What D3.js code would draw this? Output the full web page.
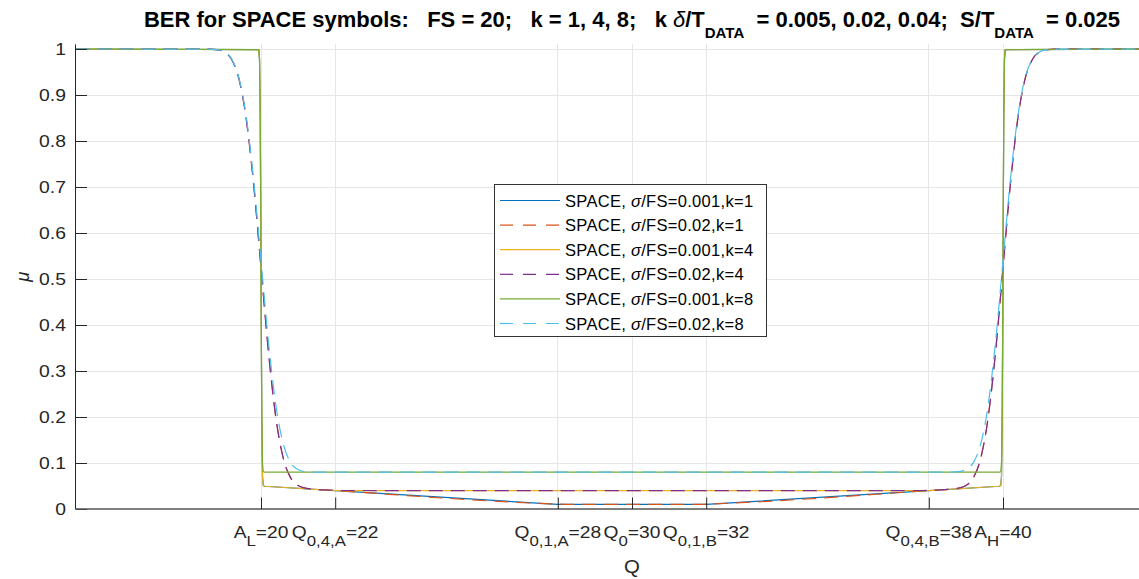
<!DOCTYPE html>
<html><head><meta charset="utf-8">
<script src="https://cdn.jsdelivr.net/npm/d3@7"></script>
<style>
body{margin:0;background:#fff;overflow:hidden}
svg{display:block;font-family:"Liberation Sans",Arial,sans-serif}
</style></head><body>
<svg id="chart" width="1139" height="579"></svg>
<script>
// ---------- DATA ----------
const xTickValues = [20, 22, 28, 30, 32, 38, 40];
const xTickMain = ["A", "Q", "Q", "Q", "Q", "Q", "A"];
const xTickSub = ["L", "0,4,A", "0,1,A", "0", "0,1,B", "0,4,B", "H"];
const xTickTail = ["=20", "=22", "=28", "=30", "=32", "=38", "=40"];
const yTickValues = [0, 0.1, 0.2, 0.3, 0.4, 0.5, 0.6, 0.7, 0.8, 0.9, 1];
const yTickLabels = ["0", "0.1", "0.2", "0.3", "0.4", "0.5", "0.6", "0.7", "0.8", "0.9", "1"];
const seriesSigma = ["0.001", "0.02", "0.001", "0.02", "0.001", "0.02"];
const seriesK = ["1", "1", "4", "4", "8", "8"];

// Q grid for the sharp (σ/FS = 0.001) curves
const qSharp = [15, 19.94, 19.96, 19.98, 20, 20.02, 20.04, 20.06, 20.1, 22, 28, 32, 38, 39.9, 39.94, 39.96, 39.98, 40, 40.02, 40.04, 40.06, 45];
const muSharpK1 = [1, 0.9987, 0.9784, 0.8493, 0.525, 0.2006, 0.0718, 0.0512, 0.0495, 0.04, 0.01, 0.01, 0.04, 0.0495, 0.0512, 0.0718, 0.2006, 0.525, 0.8493, 0.9784, 0.9987, 1];
const muSharpK4 = [1, 0.9987, 0.9784, 0.8493, 0.525, 0.2006, 0.0718, 0.0512, 0.0495, 0.04, 0.04, 0.04, 0.04, 0.0495, 0.0512, 0.0718, 0.2006, 0.525, 0.8493, 0.9784, 0.9987, 1];
const muSharpK8 = [1, 0.9988, 0.9791, 0.854, 0.54, 0.226, 0.1009, 0.0812, 0.08, 0.08, 0.08, 0.08, 0.08, 0.08, 0.0812, 0.1009, 0.226, 0.54, 0.854, 0.9791, 0.9988, 1];

// Q grid for the smooth (σ/FS = 0.02) curves
const qSmooth = [15, 18.6, 18.8, 19.0, 19.2, 19.4, 19.6, 19.8, 20.0, 20.2, 20.4, 20.6, 20.8, 21.0, 21.2, 21.4, 21.8, 22.2, 27.8, 28.2, 31.8, 32.2, 37.8, 38.2, 38.6, 38.8, 39.0, 39.2, 39.4, 39.6, 39.8, 40.0, 40.2, 40.4, 40.6, 40.8, 41.0, 41.2, 41.4, 45];
const muSmoothK1 = [1, 0.9998, 0.9987, 0.9941, 0.9784, 0.9365, 0.8493, 0.7069, 0.525, 0.3424, 0.199, 0.1107, 0.0677, 0.0509, 0.0454, 0.0432, 0.0412, 0.039, 0.0113, 0.0102, 0.0102, 0.0113, 0.039, 0.0412, 0.0432, 0.0454, 0.0509, 0.0677, 0.1107, 0.199, 0.3424, 0.525, 0.7069, 0.8493, 0.9365, 0.9784, 0.9941, 0.9987, 0.9998, 1];
const muSmoothK4 = [1, 0.9998, 0.9987, 0.9941, 0.9784, 0.9365, 0.8493, 0.7069, 0.525, 0.3424, 0.199, 0.1107, 0.0677, 0.0509, 0.0454, 0.0432, 0.0412, 0.0402, 0.04, 0.04, 0.04, 0.04, 0.0402, 0.0412, 0.0432, 0.0454, 0.0509, 0.0677, 0.1107, 0.199, 0.3424, 0.525, 0.7069, 0.8493, 0.9365, 0.9784, 0.9941, 0.9987, 0.9998, 1];
const muSmoothK8 = [1, 0.9998, 0.9988, 0.9943, 0.9791, 0.9385, 0.854, 0.7161, 0.54, 0.3639, 0.226, 0.1415, 0.1009, 0.0857, 0.0812, 0.0802, 0.08, 0.08, 0.08, 0.08, 0.08, 0.08, 0.08, 0.08, 0.0802, 0.0812, 0.0857, 0.1009, 0.1415, 0.226, 0.3639, 0.54, 0.7161, 0.854, 0.9385, 0.9791, 0.9943, 0.9988, 0.9998, 1];

// ---------- STYLE / LAYOUT ----------
const colors = ["#0072BD", "#D95319", "#EDB120", "#7E2F8E", "#77AC30", "#4DBEEE"];
const dashed = [false, true, false, true, false, true];
const textColor = "#262626";

const series = [
  {q: qSharp, mu: muSharpK1},
  {q: qSmooth, mu: muSmoothK1},
  {q: qSharp, mu: muSharpK4},
  {q: qSmooth, mu: muSmoothK4},
  {q: qSharp, mu: muSharpK8},
  {q: qSmooth, mu: muSmoothK8}
];

const svg = d3.select("#chart");
const left = 75.5, bottom = 509, pxPerQ = 37.1, pxPerMu = 460;
const x = d3.scaleLinear().domain([15, 45]).range([left, left + 30 * pxPerQ]);
const y = d3.scaleLinear().domain([0, 1.01]).range([bottom, bottom - 1.01 * pxPerMu]);
const xEnd = 1139, yTop = y(1.01);
const stretch = 1.21;

// grid
const grid = svg.append("g").attr("stroke", "#e6e6e6").attr("stroke-width", 1).attr("shape-rendering", "crispEdges");
grid.selectAll("line.h").data(yTickValues.filter(v => v > 0)).join("line")
  .attr("x1", left).attr("x2", xEnd).attr("y1", d => y(d)).attr("y2", d => y(d));
grid.selectAll("line.v").data(xTickValues).join("line")
  .attr("x1", d => x(d)).attr("x2", d => x(d)).attr("y1", yTop).attr("y2", bottom);

// clip
svg.append("defs").append("clipPath").attr("id", "clip").append("rect")
  .attr("x", left).attr("y", yTop - 3).attr("width", x(45) - left).attr("height", bottom - yTop + 3);

// lines
const plot = svg.append("g").attr("clip-path", "url(#clip)");
series.forEach((s, i) => {
  const pts = s.q.map((q, j) => [q, s.mu[j]]);
  const gen = d3.line().x(d => x(d[0])).y(d => y(d[1]))
    .curve(dashed[i] ? d3.curveMonotoneX : d3.curveLinear);
  plot.append("path").datum(pts).attr("d", gen)
    .attr("fill", "none").attr("stroke", colors[i]).attr("stroke-width", 1.2)
    .attr("stroke-linejoin", "round")
    .attr("stroke-dasharray", dashed[i] ? "14,8" : null);
});

// axes
const yAxis = d3.axisLeft(y).tickValues(yTickValues).tickFormat(() => "").tickSizeInner(-11.5).tickSizeOuter(0);
const gy = svg.append("g").attr("transform", `translate(${left},0)`).call(yAxis);
gy.select(".domain").attr("stroke", textColor).attr("d", `M0,${yTop}V${bottom}`);
gy.selectAll(".tick line").attr("stroke", textColor);

const yl = svg.append("g").attr("fill", textColor).attr("font-size", 16);
yTickValues.forEach((v, i) => {
  yl.append("text").attr("transform", `translate(66,${y(v) + 5.8}) scale(${stretch},1)`)
    .attr("text-anchor", "end").text(yTickLabels[i]);
});

const xAxis = d3.axisBottom(x).tickValues(xTickValues).tickFormat(() => "").tickSizeInner(-11.5).tickSizeOuter(0);
const gx = svg.append("g").attr("transform", `translate(0,${bottom})`).call(xAxis);
gx.select(".domain").attr("stroke", "#555").attr("stroke-width", 1.5).attr("d", `M${left},0H${xEnd}`);
gx.selectAll(".tick line").attr("stroke", textColor);

// x tick labels with subscripts
const xl = svg.append("g").attr("fill", textColor).attr("font-size", 16);
xTickValues.forEach((v, i) => {
  const t = xl.append("text").attr("transform", `translate(${x(v)},537.5) scale(${stretch - 0.01},1)`)
    .attr("text-anchor", "middle");
  t.append("tspan").text(xTickMain[i]);
  t.append("tspan").attr("dy", 8.7).attr("font-size", 14).text(xTickSub[i]);
  t.append("tspan").attr("dy", -8.7).text(xTickTail[i]);
});

// axis labels
svg.append("text").attr("transform", `translate(${x(30)},573) scale(1.1,1)`).attr("text-anchor", "middle")
  .attr("font-size", 18.5).attr("fill", textColor).text("Q");
svg.append("text").attr("transform", `translate(29,${(yTop + bottom) / 2}) rotate(-90)`)
  .attr("text-anchor", "middle").attr("font-size", 18.5).attr("font-style", "italic")
  .attr("fill", textColor).text("μ");

// title
const title = svg.append("text").attr("x", x(30)).attr("y", 26.5).attr("text-anchor", "middle")
  .attr("font-weight", "bold").attr("font-size", 22).attr("fill", "#000")
  .style("white-space", "pre");
title.append("tspan").text("BER for SPACE symbols:   FS = 20;   k = 1, 4, 8;   k ");
title.append("tspan").attr("font-style", "italic").attr("font-weight", "normal").text("δ");
title.append("tspan").text("/T");
title.append("tspan").attr("dy", 11.5).attr("font-size", 15).text("DATA");
title.append("tspan").attr("dy", -11.5).text("  = 0.005, 0.02, 0.04;  S/T");
title.append("tspan").attr("dy", 11.5).attr("font-size", 15).text("DATA");
title.append("tspan").attr("dy", -11.5).text("  = 0.025");

// legend
const lg = svg.append("g");
lg.append("rect").attr("x", 494.5).attr("y", 184.5).attr("width", 272).attr("height", 152)
  .attr("fill", "#fff").attr("stroke", "#333").attr("stroke-width", 1);
seriesSigma.forEach((sg, i) => {
  const ry = 200.5 + i * 24.6;
  lg.append("line").attr("x1", 500).attr("x2", 560).attr("y1", ry).attr("y2", ry)
    .attr("stroke", colors[i]).attr("stroke-width", 1.2)
    .attr("stroke-dasharray", dashed[i] ? "13,10" : null);
  const t = lg.append("text").attr("x", 565).attr("y", ry + 6).attr("font-size", 16.5)
    .attr("letter-spacing", "0.3px").attr("fill", "#000").style("white-space", "pre");
  t.append("tspan").text("SPACE, ");
  t.append("tspan").attr("font-style", "italic").text("σ");
  t.append("tspan").text(`/FS=${sg},k=${seriesK[i]}`);
});
</script>
</body></html>
